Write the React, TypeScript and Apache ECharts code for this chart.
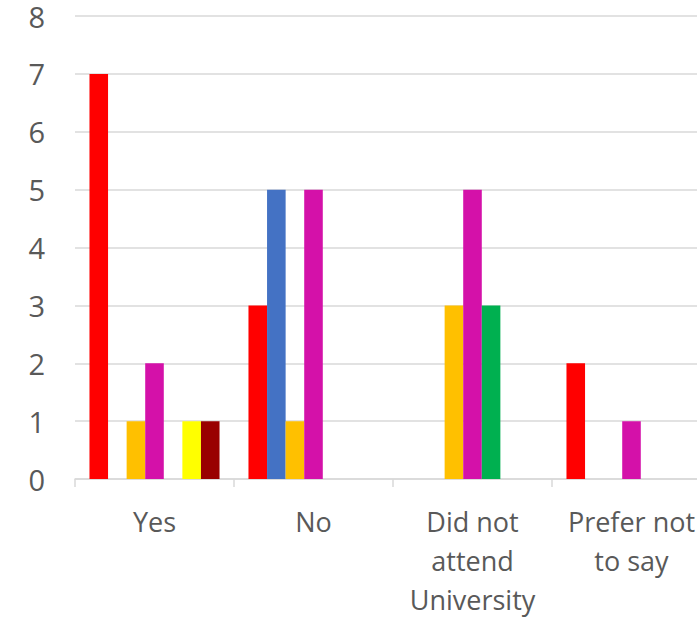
import React, { useEffect, useRef } from "react";
import * as echarts from "echarts";

const categories = ["Yes", "No", "Did not\nattend\nUniversity", "Prefer not\nto say"];
const seriesNames = ["S1", "S2", "S3", "S4", "S5", "S6", "S7"];
const seriesColors = ["#FF0000", "#4472C4", "#FFC000", "#D411A9", "#00B050", "#FFFF00", "#990000"];
const s1 = [7, 3, 0, 2];
const s2 = [0, 5, 0, 0];
const s3 = [1, 1, 3, 0];
const s4 = [2, 5, 5, 1];
const s5 = [0, 0, 3, 0];
const s6 = [1, 0, 0, 0];
const s7 = [1, 0, 0, 0];
const seriesData = [s1, s2, s3, s4, s5, s6, s7];
const yTicks = [0, 1, 2, 3, 4, 5, 6, 7, 8];

export default function App() {
  const ref = useRef<HTMLDivElement>(null);
  useEffect(() => {
    if (!ref.current) return;
    const chart = echarts.init(ref.current, null, { renderer: "svg" });
    chart.setOption({
      animation: false,
      grid: { left: 75, right: 9, top: 16, bottom: 134, containLabel: false },
      xAxis: {
        type: "category",
        data: categories,
        axisLine: { show: true, lineStyle: { color: "#d9d9d9", width: 1.5 } },
        axisTick: { show: true, length: 8, lineStyle: { color: "#d9d9d9", width: 1.5 } },
        axisLabel: {
          color: "#595959",
          fontFamily: "Open Sans",
          fontSize: 27,
          lineHeight: 39,
          margin: 23,
          interval: 0,
        },
      },
      yAxis: {
        type: "value",
        min: yTicks[0],
        max: yTicks[yTicks.length - 1],
        interval: 1,
        axisLine: { show: false },
        axisTick: { show: false },
        splitLine: { lineStyle: { color: "#d9d9d9", width: 1.5 } },
        axisLabel: {
          color: "#595959",
          fontFamily: "Open Sans",
          fontSize: 29,
          lineHeight: 16,
          margin: 30,
        },
      },
      series: seriesNames.map((name, i) => ({
        name,
        type: "bar",
        data: seriesData[i],
        barGap: "0%",
        barCategoryGap: "18.2%",
        itemStyle: { color: seriesColors[i] },
      })),
    });
    return () => chart.dispose();
  }, []);
  return (
    <div style={{ position: "fixed", left: 0, top: 0, width: 697, height: 619, overflow: "hidden", background: "#fff" }}>
      <div ref={ref} style={{ width: 720, height: 619 }} />
    </div>
  );
}
